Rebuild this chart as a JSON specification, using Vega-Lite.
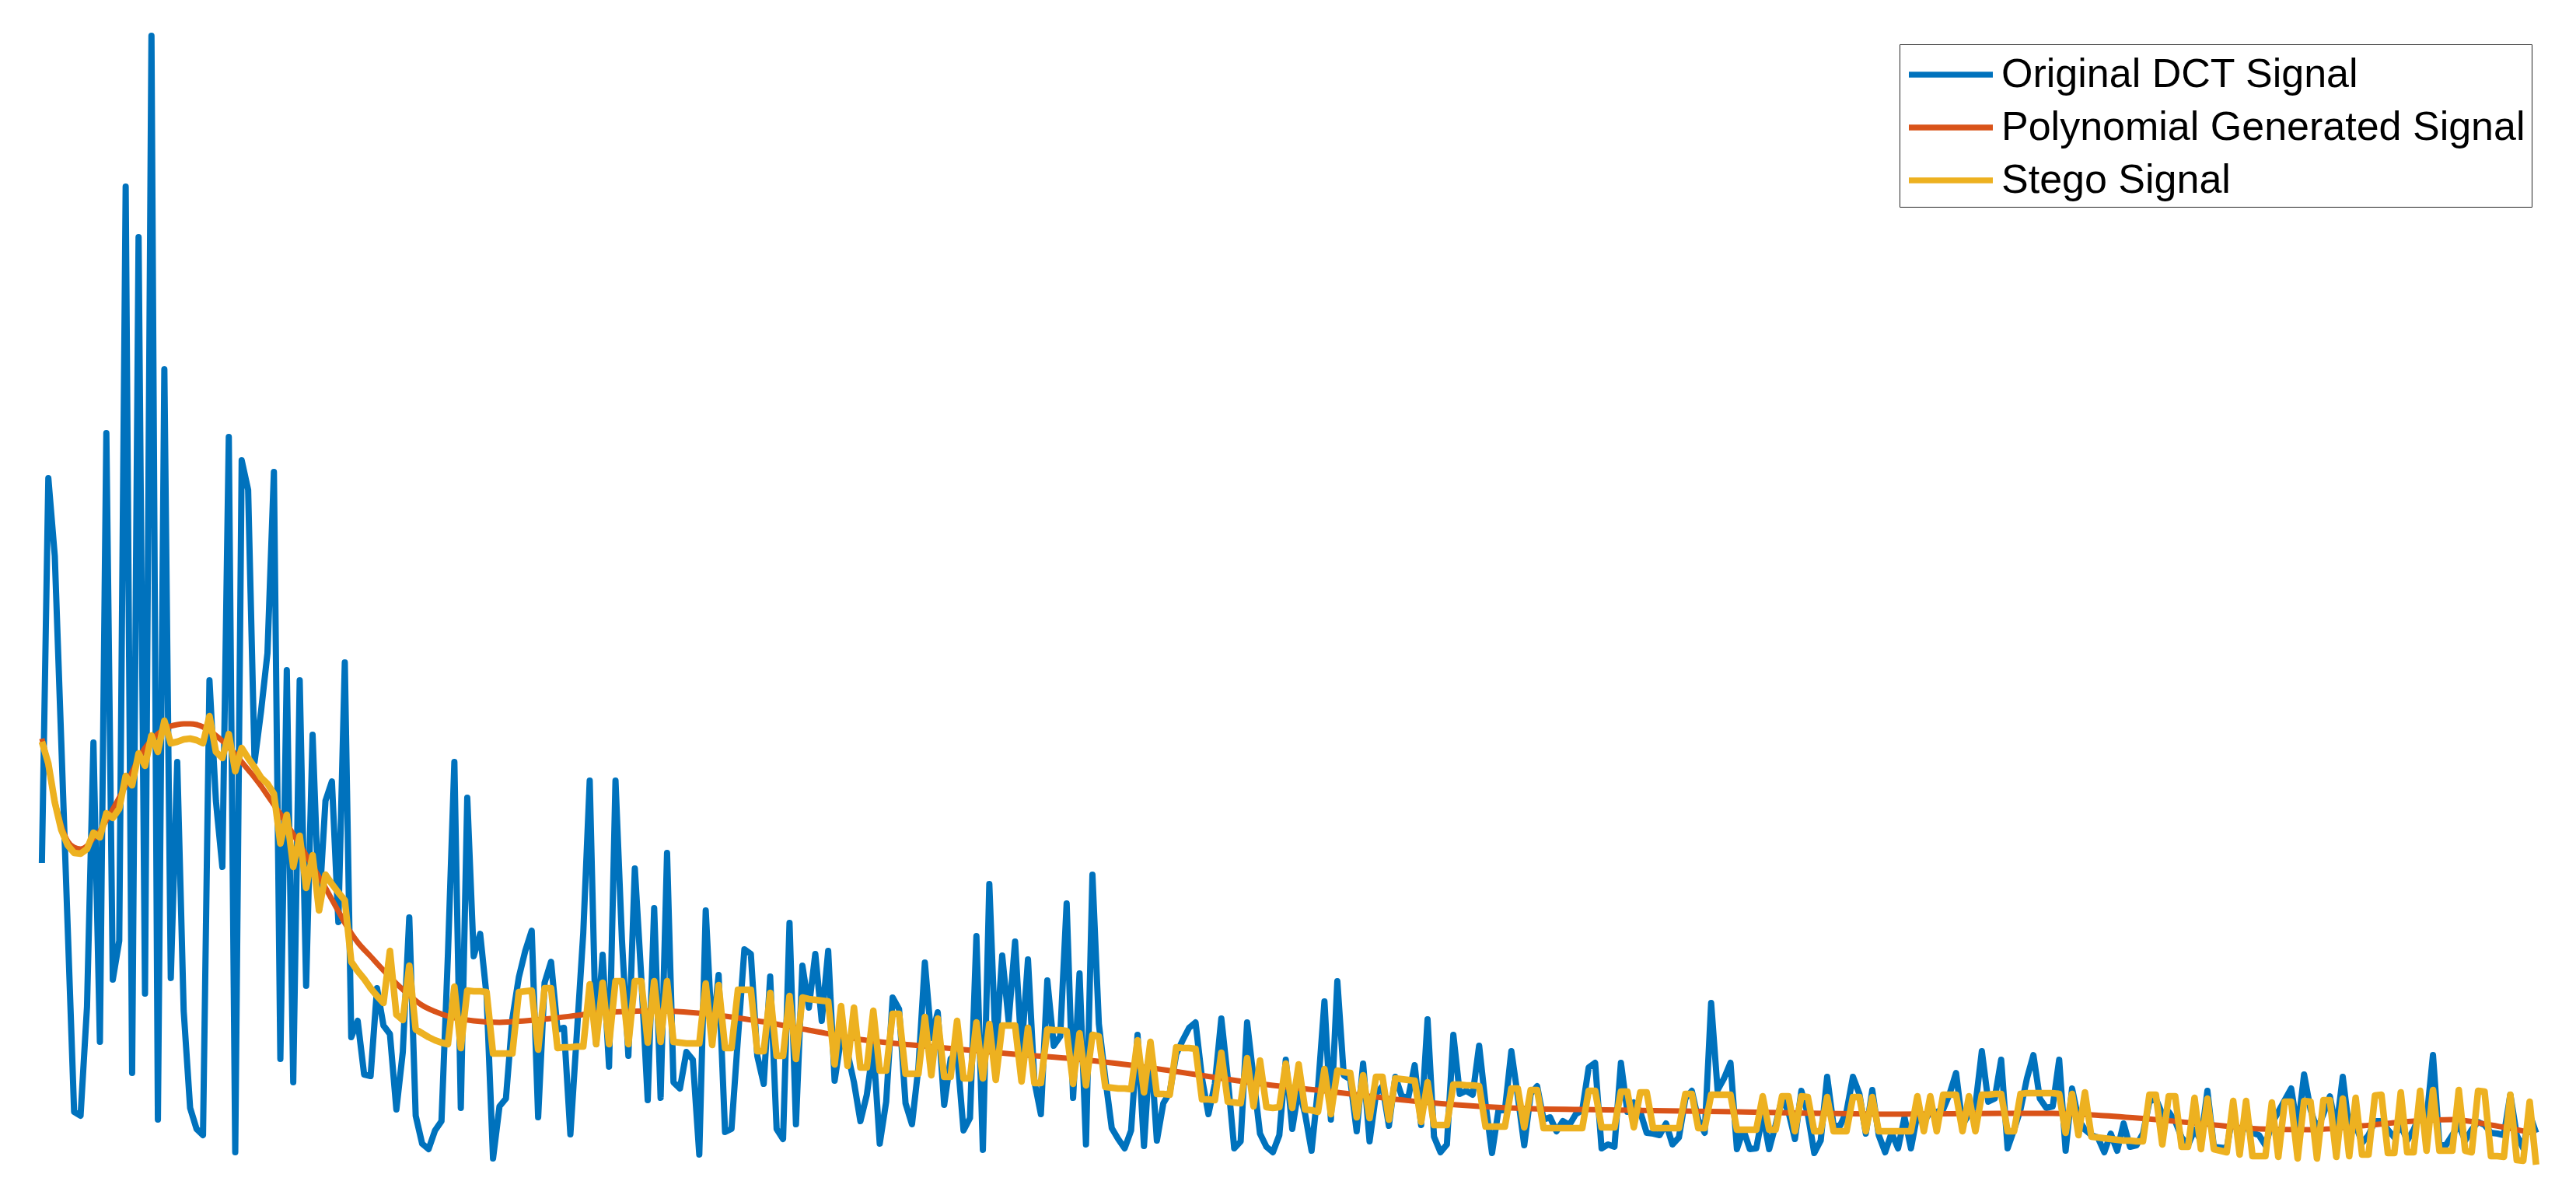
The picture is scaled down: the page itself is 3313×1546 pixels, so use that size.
{
"$schema": "https://vega.github.io/schema/vega-lite/v6.json",
"width": 3313, "height": 1546,
"autosize": {"type": "fit", "contains": "padding"},
"padding": 0,
"background": "white",
"config": {"view": {"stroke": null}},
"datasets": {
"sig": [
{"k":1,"d":38.0,"s":53.6},{"k":2,"d":87.5,"s":50.8},{"k":3,"d":77.5,"s":45.8},{"k":4,"d":53.7,"s":42.3},{"k":5,"d":29.8,"s":40.3},{"k":6,"d":6.0,"s":39.3},{"k":7,"d":5.5,"s":39.2},{"k":8,"d":19.5,"s":39.8},{"k":9,"d":53.5,"s":41.9},{"k":10,"d":15.0,"s":41.3},
{"k":11,"d":93.3,"s":44.4},{"k":12,"d":23.0,"s":43.8},{"k":13,"d":28.0,"s":45.0},{"k":14,"d":125.0,"s":49.2},{"k":15,"d":11.0,"s":48.0},{"k":16,"d":118.5,"s":52.1},{"k":17,"d":21.2,"s":50.5},{"k":18,"d":144.4,"s":54.4},{"k":19,"d":5.0,"s":52.3},{"k":20,"d":101.5,"s":56.3},
{"k":21,"d":23.2,"s":53.4},{"k":22,"d":51.0,"s":53.6},{"k":23,"d":19.0,"s":53.9},{"k":24,"d":6.5,"s":54.0},{"k":25,"d":3.8,"s":53.8},{"k":26,"d":3.0,"s":53.4},{"k":27,"d":61.5,"s":56.9},{"k":28,"d":46.0,"s":52.3},{"k":29,"d":37.5,"s":51.5},{"k":30,"d":92.8,"s":54.6},
{"k":31,"d":0.8,"s":49.8},{"k":32,"d":89.8,"s":52.8},{"k":33,"d":86.0,"s":51.5},{"k":34,"d":51.0,"s":50.3},{"k":35,"d":57.5,"s":49.0},{"k":36,"d":65.0,"s":48.2},{"k":37,"d":88.3,"s":46.9},{"k":38,"d":12.8,"s":40.5},{"k":39,"d":62.8,"s":44.2},{"k":40,"d":9.8,"s":37.5},
{"k":41,"d":61.5,"s":41.5},{"k":42,"d":22.2,"s":34.8},{"k":43,"d":54.5,"s":39.0},{"k":44,"d":32.0,"s":31.9},{"k":45,"d":46.0,"s":36.5},{"k":46,"d":48.5,"s":35.3},{"k":47,"d":30.4,"s":34.2},{"k":48,"d":63.8,"s":33.2},{"k":49,"d":15.6,"s":25.3},{"k":50,"d":17.7,"s":24.1},
{"k":51,"d":10.8,"s":23.1},{"k":52,"d":10.6,"s":21.9},{"k":53,"d":21.9,"s":20.9},{"k":54,"d":17.1,"s":20.0},{"k":55,"d":16.0,"s":26.7},{"k":56,"d":6.3,"s":18.5},{"k":57,"d":13.7,"s":17.8},{"k":58,"d":31.0,"s":24.8},{"k":59,"d":5.5,"s":16.6},{"k":60,"d":1.9,"s":16.1},
{"k":61,"d":1.2,"s":15.6},{"k":62,"d":3.6,"s":15.2},{"k":63,"d":4.8,"s":14.9},{"k":64,"d":26.2,"s":14.7},{"k":65,"d":51.0,"s":22.1},{"k":66,"d":6.5,"s":14.2},{"k":67,"d":46.4,"s":21.6},{"k":68,"d":26.0,"s":21.5},{"k":69,"d":28.9,"s":21.5},{"k":70,"d":20.9,"s":21.4},
{"k":71,"d":0.0,"s":13.5},{"k":72,"d":6.7,"s":13.5},{"k":73,"d":7.7,"s":13.5},{"k":74,"d":18.0,"s":13.5},{"k":75,"d":23.3,"s":21.4},{"k":76,"d":26.7,"s":21.5},{"k":77,"d":29.3,"s":21.6},{"k":78,"d":5.3,"s":14.0},{"k":79,"d":22.6,"s":21.9},{"k":80,"d":25.3,"s":21.9},
{"k":81,"d":16.6,"s":14.2},{"k":82,"d":16.8,"s":14.3},{"k":83,"d":3.1,"s":14.3},{"k":84,"d":16.0,"s":14.4},{"k":85,"d":29.0,"s":14.4},{"k":86,"d":48.6,"s":22.4},{"k":87,"d":14.7,"s":14.7},{"k":88,"d":26.2,"s":22.6},{"k":89,"d":11.8,"s":14.7},{"k":90,"d":48.6,"s":22.8},
{"k":91,"d":28.1,"s":22.8},{"k":92,"d":13.2,"s":14.7},{"k":93,"d":37.3,"s":22.8},{"k":94,"d":23.3,"s":22.8},{"k":95,"d":7.5,"s":14.9},{"k":96,"d":32.2,"s":22.8},{"k":97,"d":7.8,"s":15.0},{"k":98,"d":39.3,"s":22.8},{"k":99,"d":9.8,"s":15.0},{"k":100,"d":9.0,"s":14.9},
{"k":101,"d":13.7,"s":14.8},{"k":102,"d":12.7,"s":14.8},{"k":103,"d":0.5,"s":14.8},{"k":104,"d":31.9,"s":22.5},{"k":105,"d":15.5,"s":14.6},{"k":106,"d":23.6,"s":22.3},{"k":107,"d":3.4,"s":14.2},{"k":108,"d":3.8,"s":14.2},{"k":109,"d":15.5,"s":21.7},{"k":110,"d":26.9,"s":21.7},
{"k":111,"d":26.3,"s":21.7},{"k":112,"d":13.2,"s":13.8},{"k":113,"d":9.6,"s":13.8},{"k":114,"d":23.4,"s":21.3},{"k":115,"d":3.8,"s":13.2},{"k":116,"d":2.5,"s":13.2},{"k":117,"d":30.3,"s":20.9},{"k":118,"d":4.4,"s":12.8},{"k":119,"d":24.8,"s":20.7},{"k":120,"d":19.4,"s":20.5},
{"k":121,"d":26.3,"s":20.4},{"k":122,"d":17.7,"s":20.3},{"k":123,"d":26.7,"s":20.2},{"k":124,"d":10.0,"s":12.1},{"k":125,"d":15.5,"s":19.6},{"k":126,"d":13.6,"s":11.9},{"k":127,"d":9.8,"s":19.4},{"k":128,"d":4.8,"s":11.7},{"k":129,"d":8.2,"s":11.7},{"k":130,"d":14.4,"s":19.0},
{"k":131,"d":1.9,"s":11.3},{"k":132,"d":7.3,"s":11.3},{"k":133,"d":20.7,"s":18.6},{"k":134,"d":19.2,"s":18.6},{"k":135,"d":7.1,"s":10.9},{"k":136,"d":4.4,"s":10.9},{"k":137,"d":11.7,"s":10.9},{"k":138,"d":25.2,"s":18.2},{"k":139,"d":15.5,"s":10.7},{"k":140,"d":18.8,"s":18.0},
{"k":141,"d":6.9,"s":10.5},{"k":142,"d":12.8,"s":10.5},{"k":143,"d":13.6,"s":17.7},{"k":144,"d":3.6,"s":10.3},{"k":145,"d":5.2,"s":10.3},{"k":146,"d":28.6,"s":17.5},{"k":147,"d":1.1,"s":10.3},{"k":148,"d":35.3,"s":17.3},{"k":149,"d":13.8,"s":10.1},{"k":150,"d":26.1,"s":17.1},
{"k":151,"d":17.7,"s":17.1},{"k":152,"d":27.9,"s":17.1},{"k":153,"d":13.8,"s":9.9},{"k":154,"d":25.6,"s":16.8},{"k":155,"d":9.9,"s":9.7},{"k":156,"d":5.7,"s":9.7},{"k":157,"d":22.9,"s":16.6},{"k":158,"d":14.5,"s":16.5},{"k":159,"d":15.7,"s":16.5},{"k":160,"d":32.8,"s":16.4},
{"k":161,"d":7.8,"s":9.6},{"k":162,"d":23.8,"s":16.1},{"k":163,"d":1.8,"s":9.4},{"k":164,"d":36.5,"s":15.9},{"k":165,"d":17.3,"s":15.7},{"k":166,"d":10.3,"s":9.2},{"k":167,"d":3.9,"s":9.1},{"k":168,"d":2.5,"s":9.0},{"k":169,"d":1.3,"s":9.0},{"k":170,"d":3.6,"s":8.9},
{"k":171,"d":15.9,"s":15.2},{"k":172,"d":1.6,"s":8.5},{"k":173,"d":14.8,"s":15.0},{"k":174,"d":2.3,"s":8.3},{"k":175,"d":7.1,"s":8.3},{"k":176,"d":8.5,"s":8.2},{"k":177,"d":13.4,"s":14.3},{"k":178,"d":15.2,"s":14.2},{"k":179,"d":16.8,"s":14.2},{"k":180,"d":17.5,"s":14.1},
{"k":181,"d":10.3,"s":7.6},{"k":182,"d":5.7,"s":7.6},{"k":183,"d":9.6,"s":7.5},{"k":184,"d":18.0,"s":13.6},{"k":185,"d":10.3,"s":7.3},{"k":186,"d":1.3,"s":7.2},{"k":187,"d":2.2,"s":7.1},{"k":188,"d":17.5,"s":12.9},{"k":189,"d":10.3,"s":6.7},{"k":190,"d":3.2,"s":12.6},
{"k":191,"d":1.5,"s":6.6},{"k":192,"d":0.8,"s":6.5},{"k":193,"d":3.0,"s":6.6},{"k":194,"d":12.7,"s":12.2},{"k":195,"d":3.8,"s":6.5},{"k":196,"d":9.0,"s":12.1},{"k":197,"d":5.7,"s":6.3},{"k":198,"d":1.0,"s":6.2},{"k":199,"d":9.0,"s":6.0},{"k":200,"d":20.2,"s":11.5},
{"k":201,"d":5.0,"s":5.7},{"k":202,"d":22.8,"s":11.3},{"k":203,"d":10.7,"s":11.1},{"k":204,"d":10.2,"s":11.0},{"k":205,"d":3.5,"s":5.3},{"k":206,"d":12.2,"s":10.7},{"k":207,"d":2.2,"s":5.2},{"k":208,"d":8.3,"s":10.5},{"k":209,"d":9.3,"s":10.5},{"k":210,"d":4.2,"s":5.0},
{"k":211,"d":10.5,"s":10.3},{"k":212,"d":8.0,"s":10.2},{"k":213,"d":7.8,"s":10.1},{"k":214,"d":12.0,"s":10.0},{"k":215,"d":4.3,"s":4.7},{"k":216,"d":17.9,"s":9.8},{"k":217,"d":2.8,"s":4.3},{"k":218,"d":0.8,"s":4.3},{"k":219,"d":1.8,"s":4.3},{"k":220,"d":15.9,"s":9.5},
{"k":221,"d":8.3,"s":9.5},{"k":222,"d":8.7,"s":9.4},{"k":223,"d":8.2,"s":9.4},{"k":224,"d":14.5,"s":9.3},{"k":225,"d":7.0,"s":4.1},{"k":226,"d":0.7,"s":4.1},{"k":227,"d":6.2,"s":4.1},{"k":228,"d":6.2,"s":4.1},{"k":229,"d":13.8,"s":9.0},{"k":230,"d":8.0,"s":9.0},
{"k":231,"d":1.7,"s":4.0},{"k":232,"d":8.3,"s":8.8},{"k":233,"d":9.3,"s":8.8},{"k":234,"d":5.0,"s":3.9},{"k":235,"d":5.3,"s":3.9},{"k":236,"d":3.5,"s":3.9},{"k":237,"d":4.8,"s":3.9},{"k":238,"d":4.3,"s":3.9},{"k":239,"d":5.7,"s":3.9},{"k":240,"d":6.2,"s":3.9},
{"k":241,"d":11.7,"s":8.7},{"k":242,"d":12.3,"s":8.7},{"k":243,"d":1.3,"s":4.0},{"k":244,"d":1.8,"s":4.0},{"k":245,"d":1.5,"s":4.0},{"k":246,"d":12.3,"s":8.6},{"k":247,"d":6.0,"s":8.6},{"k":248,"d":7.2,"s":4.0},{"k":249,"d":6.0,"s":8.5},{"k":250,"d":3.3,"s":8.5},
{"k":251,"d":3.2,"s":3.9},{"k":252,"d":3.0,"s":3.9},{"k":253,"d":4.5,"s":3.9},{"k":254,"d":1.8,"s":3.9},{"k":255,"d":2.7,"s":3.9},{"k":256,"d":7.7,"s":8.3},{"k":257,"d":8.7,"s":8.3},{"k":258,"d":5.0,"s":3.9},{"k":259,"d":3.3,"s":3.9},{"k":260,"d":20.0,"s":8.2},
{"k":261,"d":8.8,"s":8.2},{"k":262,"d":10.3,"s":8.2},{"k":263,"d":12.3,"s":8.2},{"k":264,"d":1.2,"s":3.7},{"k":265,"d":3.7,"s":3.7},{"k":266,"d":1.2,"s":3.7},{"k":267,"d":1.3,"s":3.7},{"k":268,"d":5.7,"s":8.0},{"k":269,"d":1.2,"s":3.7},{"k":270,"d":4.3,"s":3.7},
{"k":271,"d":7.7,"s":8.0},{"k":272,"d":6.0,"s":8.0},{"k":273,"d":2.5,"s":3.5},{"k":274,"d":8.7,"s":8.0},{"k":275,"d":5.7,"s":7.9},{"k":276,"d":0.7,"s":3.5},{"k":277,"d":2.3,"s":3.5},{"k":278,"d":10.5,"s":7.9},{"k":279,"d":4.2,"s":3.5},{"k":280,"d":4.2,"s":3.5},
{"k":281,"d":6.0,"s":3.5},{"k":282,"d":10.5,"s":7.9},{"k":283,"d":8.3,"s":7.9},{"k":284,"d":3.2,"s":3.5},{"k":285,"d":8.8,"s":7.9},{"k":286,"d":3.0,"s":3.5},{"k":287,"d":0.8,"s":3.5},{"k":288,"d":3.3,"s":3.5},{"k":289,"d":1.3,"s":3.5},{"k":290,"d":5.3,"s":3.5},
{"k":291,"d":1.3,"s":3.5},{"k":292,"d":5.7,"s":8.0},{"k":293,"d":4.7,"s":3.5},{"k":294,"d":6.0,"s":8.0},{"k":295,"d":6.0,"s":3.5},{"k":296,"d":6.3,"s":8.2},{"k":297,"d":8.3,"s":8.2},{"k":298,"d":11.0,"s":8.2},{"k":299,"d":4.3,"s":3.5},{"k":300,"d":5.7,"s":8.0},
{"k":301,"d":6.8,"s":3.5},{"k":302,"d":13.8,"s":8.2},{"k":303,"d":7.3,"s":8.2},{"k":304,"d":7.7,"s":8.3},{"k":305,"d":12.7,"s":8.3},{"k":306,"d":1.3,"s":3.5},{"k":307,"d":3.7,"s":3.5},{"k":308,"d":6.3,"s":8.3},{"k":309,"d":10.3,"s":8.4},{"k":310,"d":13.3,"s":8.4},
{"k":311,"d":7.7,"s":8.4},{"k":312,"d":6.5,"s":8.4},{"k":313,"d":6.7,"s":8.4},{"k":314,"d":12.7,"s":8.3},{"k":315,"d":1.0,"s":3.3},{"k":316,"d":9.0,"s":8.3},{"k":317,"d":5.0,"s":3.0},{"k":318,"d":3.7,"s":8.5},{"k":319,"d":3.0,"s":2.8},{"k":320,"d":2.7,"s":2.7},
{"k":321,"d":0.8,"s":2.6},{"k":322,"d":3.2,"s":2.5},{"k":323,"d":1.0,"s":2.4},{"k":324,"d":4.5,"s":2.3},{"k":325,"d":1.5,"s":2.3},{"k":326,"d":1.7,"s":2.2},{"k":327,"d":3.2,"s":2.2},{"k":328,"d":7.3,"s":8.2},{"k":329,"d":7.7,"s":8.2},{"k":330,"d":5.7,"s":1.8},
{"k":331,"d":6.0,"s":8.0},{"k":332,"d":4.8,"s":8.0},{"k":333,"d":2.7,"s":1.5},{"k":334,"d":1.7,"s":1.5},{"k":335,"d":3.7,"s":7.8},{"k":336,"d":2.3,"s":1.2},{"k":337,"d":8.7,"s":7.7},{"k":338,"d":1.5,"s":1.2},{"k":339,"d":1.4,"s":1.0},{"k":340,"d":1.3,"s":0.8},
{"k":341,"d":6.0,"s":7.4},{"k":342,"d":2.0,"s":0.5},{"k":343,"d":5.0,"s":7.4},{"k":344,"d":3.3,"s":0.3},{"k":345,"d":3.0,"s":0.3},{"k":346,"d":1.7,"s":0.3},{"k":347,"d":4.5,"s":7.2},{"k":348,"d":6.0,"s":0.2},{"k":349,"d":7.5,"s":7.3},{"k":350,"d":9.0,"s":7.3},
{"k":351,"d":3.7,"s":0.0},{"k":352,"d":10.8,"s":7.4},{"k":353,"d":6.3,"s":7.3},{"k":354,"d":3.7,"s":0.0},{"k":355,"d":5.7,"s":7.5},{"k":356,"d":8.0,"s":7.5},{"k":357,"d":3.7,"s":0.2},{"k":358,"d":10.5,"s":7.7},{"k":359,"d":3.7,"s":0.3},{"k":360,"d":4.3,"s":7.8},
{"k":361,"d":2.0,"s":0.5},{"k":362,"d":3.0,"s":0.5},{"k":363,"d":4.8,"s":8.1},{"k":364,"d":4.8,"s":8.2},{"k":365,"d":3.7,"s":0.7},{"k":366,"d":2.7,"s":0.7},{"k":367,"d":4.3,"s":8.5},{"k":368,"d":2.3,"s":0.8},{"k":369,"d":3.7,"s":0.8},{"k":370,"d":5.7,"s":8.7},
{"k":371,"d":5.0,"s":1.0},{"k":372,"d":13.3,"s":8.8},{"k":373,"d":1.7,"s":1.0},{"k":374,"d":1.7,"s":1.0},{"k":375,"d":3.0,"s":1.0},{"k":376,"d":4.3,"s":8.8},{"k":377,"d":2.3,"s":1.0},{"k":378,"d":3.7,"s":0.8},{"k":379,"d":4.7,"s":8.7},{"k":380,"d":4.3,"s":8.6},
{"k":381,"d":3.3,"s":0.3},{"k":382,"d":3.2,"s":0.3},{"k":383,"d":3.0,"s":0.2},{"k":384,"d":8.2,"s":8.2},{"k":385,"d":3.0,"s":-0.2},{"k":386,"d":1.3,"s":-0.3},{"k":387,"d":5.7,"s":7.3},{"k":388,"d":3.3,"s":-0.8}
],
"poly": [
{"k":1,"p":54.0},{"k":2,"p":50.5},{"k":3,"p":46.0},{"k":4,"p":42.8},{"k":5,"p":40.8},{"k":6,"p":40.0},{"k":7,"p":39.8},{"k":8,"p":40.2},{"k":9,"p":41.2},{"k":10,"p":42.1},
{"k":11,"p":43.5},{"k":12,"p":44.9},{"k":13,"p":46.4},{"k":14,"p":48.0},{"k":15,"p":49.7},{"k":16,"p":51.4},{"k":17,"p":52.8},{"k":18,"p":53.8},{"k":19,"p":54.6},{"k":20,"p":55.2},
{"k":21,"p":55.6},{"k":22,"p":55.8},{"k":23,"p":55.9},{"k":24,"p":55.9},{"k":25,"p":55.8},{"k":26,"p":55.5},{"k":27,"p":55.0},{"k":28,"p":54.4},{"k":29,"p":53.7},{"k":30,"p":52.9},
{"k":31,"p":52.0},{"k":32,"p":51.0},{"k":33,"p":50.0},{"k":34,"p":49.0},{"k":35,"p":47.9},{"k":36,"p":46.7},{"k":37,"p":45.5},{"k":38,"p":44.3},{"k":39,"p":43.0},{"k":40,"p":41.7},
{"k":41,"p":40.4},{"k":42,"p":39.0},{"k":43,"p":37.6},{"k":44,"p":36.2},{"k":45,"p":34.8},{"k":46,"p":33.3},{"k":47,"p":31.8},{"k":48,"p":30.3},{"k":50,"p":27.8},{"k":52,"p":26.0},
{"k":54,"p":24.2},{"k":56,"p":22.5},{"k":58,"p":21.0},{"k":60,"p":19.7},{"k":62,"p":18.9},{"k":64,"p":18.3},{"k":68,"p":17.7},{"k":72,"p":17.5},{"k":76,"p":17.7},{"k":80,"p":18.0},
{"k":84,"p":18.4},{"k":88,"p":18.8},{"k":92,"p":18.9},{"k":96,"p":19.0},{"k":104,"p":18.6},{"k":112,"p":17.7},{"k":120,"p":16.5},{"k":128,"p":15.3},{"k":136,"p":14.6},{"k":144,"p":14.0},
{"k":152,"p":13.4},{"k":160,"p":12.9},{"k":168,"p":12.2},{"k":176,"p":11.3},{"k":184,"p":10.3},{"k":192,"p":9.4},{"k":200,"p":8.7},{"k":208,"p":7.9},{"k":216,"p":7.2},{"k":224,"p":6.7},
{"k":232,"p":6.4},{"k":240,"p":6.3},{"k":264,"p":6.0},{"k":289,"p":5.7},{"k":305,"p":5.8},{"k":313,"p":5.8},{"k":321,"p":5.5},{"k":329,"p":5.0},{"k":337,"p":4.4},{"k":345,"p":3.8},
{"k":353,"p":3.7},{"k":361,"p":4.2},{"k":369,"p":4.8},{"k":375,"p":5.0},{"k":381,"p":4.3},{"k":388,"p":3.2}
]
},
"layer": [
{
"data": {"name": "sig"},
"mark": {"type": "line", "strokeWidth": 8, "strokeJoin": "round"},
"encoding": {
"x": {"field": "k", "type": "quantitative", "scale": {"domain": [-5.5, 394.19], "nice": false, "zero": false}, "axis": null},
"y": {"field": "d", "type": "quantitative", "scale": {"domain": [-5.6, 149], "nice": false, "zero": false}, "axis": null},
"color": {"datum": "Original DCT Signal", "type": "nominal",
"scale": {"domain": ["Original DCT Signal", "Polynomial Generated Signal", "Stego Signal"], "range": ["#0072BD", "#D95319", "#EDB120"]},
"legend": {"title": null, "orient": "none", "legendX": 2443, "legendY": 57, "symbolType": "M-1,0H3", "symbolSize": 2916, "symbolStrokeWidth": 7.5, "labelFontSize": 52, "labelFont": "Liberation Sans", "labelColor": "black", "labelOffset": 61, "labelLimit": 0, "rowPadding": 11, "padding": 8, "strokeColor": "#262626", "fillColor": "white"}}
}
},
{
"data": {"name": "poly"},
"mark": {"type": "line", "strokeWidth": 7, "strokeJoin": "round", "interpolate": "monotone"},
"encoding": {
"x": {"field": "k", "type": "quantitative"},
"y": {"field": "p", "type": "quantitative"},
"color": {"datum": "Polynomial Generated Signal", "type": "nominal"}
}
},
{
"data": {"name": "sig"},
"mark": {"type": "line", "strokeWidth": 8.5, "strokeJoin": "round"},
"encoding": {
"x": {"field": "k", "type": "quantitative"},
"y": {"field": "s", "type": "quantitative"},
"color": {"datum": "Stego Signal", "type": "nominal"}
}
}
]
}
